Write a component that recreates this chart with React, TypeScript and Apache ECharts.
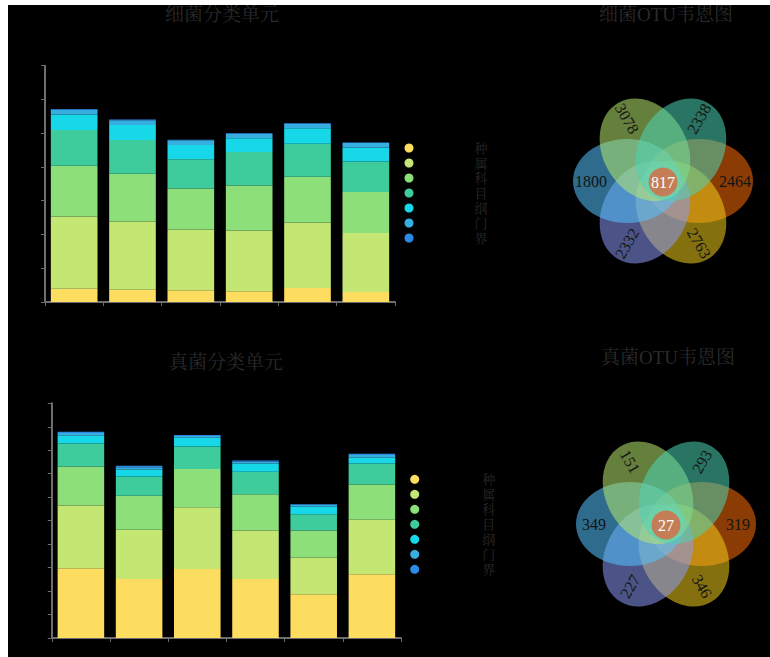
import React, { useEffect, useRef } from "react";
import * as echarts from "echarts";

// Samples along the x axis
const categories = ["S1", "S2", "S3", "S4", "S5", "S6"];

// Taxonomic ranks, stacked bottom to top
const ranks = ["种", "属", "科", "目", "纲", "门", "界"];
const rankColors = ["#fddd60", "#c4e774", "#8ddf7a", "#3ecc9c", "#17d8e8", "#36aee0", "#2b8ae6"];

// Bacterial taxonomic units per rank
const bacSpecies = [198, 183, 173, 158, 208, 148];
const bacGenus = [1068, 1009, 900, 900, 969, 875];
const bacFamily = [752, 707, 608, 668, 678, 608];
const bacOrder = [529, 500, 435, 495, 490, 450];
const bacClass = [232, 223, 208, 203, 228, 208];
const bacPhylum = [70, 70, 70, 65, 65, 65];
const bacKingdom = [10, 10, 10, 10, 10, 10];

// Fungal taxonomic units per rank
const funSpecies = [1486, 1259, 1472, 1259, 931, 1358];
const funGenus = [1337, 1045, 1315, 1031, 782, 1159];
const funFamily = [832, 725, 811, 775, 576, 754];
const funOrder = [491, 412, 484, 476, 348, 448];
const funClass = [164, 149, 185, 178, 164, 128];
const funPhylum = [55, 50, 35, 40, 30, 50];
const funKingdom = [30, 28, 22, 24, 20, 28];

// Venn petals: left, upper-left, upper-right, right, lower-right, lower-left
const bacVennUnique = [1800, 3078, 2338, 2464, 2763, 2332];
const bacVennCore = 817;
const funVennUnique = [349, 151, 293, 319, 346, 227];
const funVennCore = 27;

const petalAngles = [180, 120, 60, 0, -60, -120];
const petalLabelRotation = [0, -60, 60, 0, -60, 60];
const petalColors = [
  "rgba(84,195,255,0.55)",
  "rgba(182,233,109,0.55)",
  "rgba(76,211,180,0.55)",
  "rgba(251,109,7,0.55)",
  "rgba(242,204,27,0.55)",
  "rgba(138,153,245,0.55)",
];
// Painting order of the petals (indices into the arrays above)
const petalPaintOrder = [3, 4, 5, 0, 1, 2];

const SERIF = "'Liberation Serif', 'Noto Serif CJK SC', 'Noto Sans CJK SC', serif";

function vennGraphic(cx: number, cy: number, unique: number[], core: number) {
  const d = 36;
  const a = 54;
  const b = 42;
  const labelR = 72;
  const els: any[] = [];
  petalPaintOrder.forEach((i) => {
    const deg = petalAngles[i];
    els.push({
      type: "group",
      x: cx,
      y: cy,
      rotation: (deg * Math.PI) / 180,
      children: [
        {
          type: "ellipse",
          shape: { cx: d, cy: 0, rx: a, ry: b },
          style: { fill: petalColors[i] },
        },
      ],
    });
  });
  petalAngles.forEach((deg, i) => {
    const rad = (deg * Math.PI) / 180;
    els.push({
      type: "text",
      x: cx + labelR * Math.cos(rad),
      y: cy - labelR * Math.sin(rad),
      rotation: (petalLabelRotation[i] * Math.PI) / 180,
      style: {
        text: String(unique[i]),
        fill: "#141414",
        font: `16px ${SERIF}`,
        align: "center",
        verticalAlign: "middle",
        textAlign: "center",
        textVerticalAlign: "middle",
      },
    });
  });
  els.push({
    type: "circle",
    shape: { cx, cy: cy + 1, r: 14.5 },
    style: { fill: "#c47e57" },
  });
  els.push({
    type: "text",
    x: cx,
    y: cy + 1,
    style: {
      text: String(core),
      fill: "#ffffff",
      font: `16px ${SERIF}`,
      align: "center",
      verticalAlign: "middle",
      textAlign: "center",
      textVerticalAlign: "middle",
    },
  });
  return els;
}

export default function App() {
  const ref = useRef<HTMLDivElement>(null);

  useEffect(() => {
    if (!ref.current) return;
    const chart = echarts.init(ref.current, null, { renderer: "svg" });

    const bacData = [bacSpecies, bacGenus, bacFamily, bacOrder, bacClass, bacPhylum, bacKingdom];
    const funData = [funSpecies, funGenus, funFamily, funOrder, funClass, funPhylum, funKingdom];

    const axisLine = { show: true, lineStyle: { color: "#6e6e6e", width: 2 } };
    const axisTick = { show: true, length: 4, lineStyle: { color: "#6e6e6e", width: 1 } };

    const titleStyle = {
      color: "#2a2a2a",
      fontSize: 19,
      fontWeight: "normal" as const,
      fontFamily: SERIF,
    };

    const legendBase = (padLeft: number) => ({
      orient: "vertical" as const,
      icon: "circle",
      itemWidth: 9,
      itemHeight: 9,
      itemGap: 0,
      data: ranks,
      textStyle: {
        color: "#282828",
        fontSize: 13,
        fontFamily: SERIF,
        lineHeight: 15,
        padding: [0, 0, 0, padLeft],
      },
    });

    const makeSeries = (data: number[][], idx: number, stack: string) =>
      ranks.map((name, i) => ({
        name,
        type: "bar",
        stack,
        xAxisIndex: idx,
        yAxisIndex: idx,
        barCategoryGap: "20%",
        itemStyle: { color: rankColors[i] },
        data: data[i],
      }));

    chart.setOption({
      animation: false,
      backgroundColor: "#000000",
      color: rankColors,
      title: [
        { text: "细菌分类单元", left: 214, top: 0, textAlign: "center", padding: 0, textStyle: titleStyle },
        { text: "细菌OTU韦恩图", left: 658, top: 0, textAlign: "center", padding: 0, textStyle: titleStyle },
        { text: "真菌分类单元", left: 218, top: 348, textAlign: "center", padding: 0, textStyle: titleStyle },
        { text: "真菌OTU韦恩图", left: 660, top: 343, textAlign: "center", padding: 0, textStyle: titleStyle },
      ],
      legend: [
        { ...legendBase(56), left: 391.5, top: 130.5 },
        { ...legendBase(58), left: 397.2, top: 461.8 },
      ],
      grid: [
        { left: 37, right: 375, top: 60.7, bottom: 355 },
        { left: 43.8, right: 369, top: 398.3, bottom: 19 },
      ],
      xAxis: [
        { type: "category", gridIndex: 0, data: categories, axisLine, axisTick, axisLabel: { show: false } },
        { type: "category", gridIndex: 1, data: categories, axisLine, axisTick, axisLabel: { show: false } },
      ],
      yAxis: [
        {
          type: "value",
          gridIndex: 0,
          min: 0,
          max: 3500,
          interval: 500,
          axisLine,
          axisTick,
          axisLabel: { show: false },
          splitLine: { show: false },
        },
        {
          type: "value",
          gridIndex: 1,
          min: 0,
          max: 5000,
          interval: 500,
          axisLine,
          axisTick,
          axisLabel: { show: false },
          splitLine: { show: false },
        },
      ],
      series: [...makeSeries(bacData, 0, "bac"), ...makeSeries(funData, 1, "fun")],
      graphic: [
        ...vennGraphic(655, 176, bacVennUnique, bacVennCore),
        ...vennGraphic(658, 519, funVennUnique, funVennCore),
      ],
    });

    return () => chart.dispose();
  }, []);

  return (
    <div
      ref={ref}
      style={{ position: "absolute", left: 8, top: 5, width: 762, height: 652, background: "#000" }}
    />
  );
}
